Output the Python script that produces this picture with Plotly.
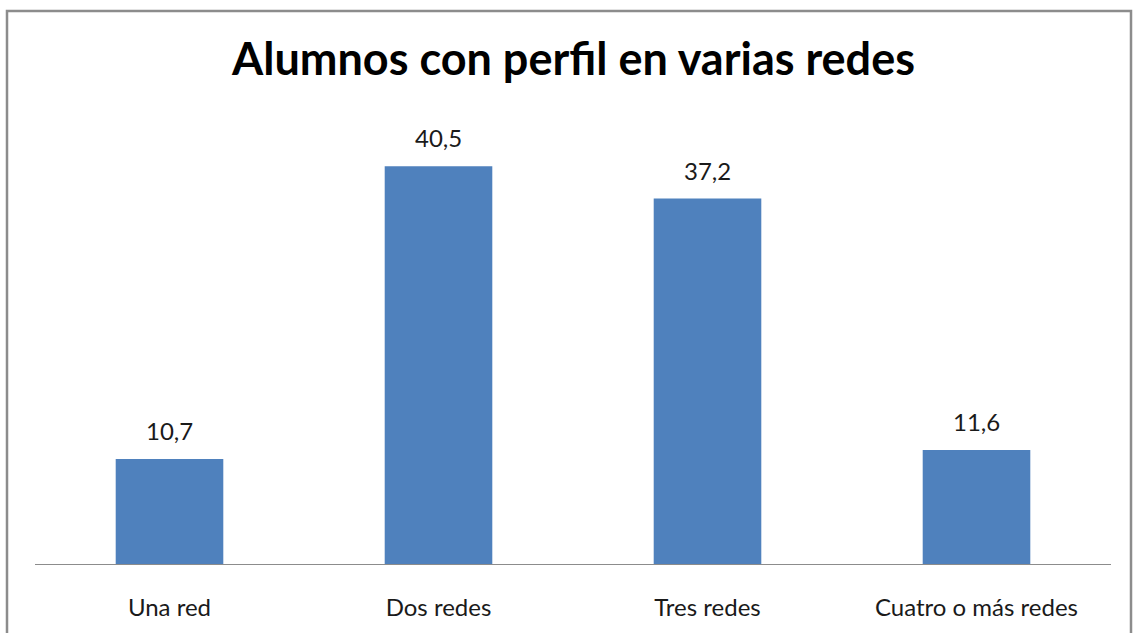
import plotly.graph_objects as go

categories = ["Una red", "Dos redes", "Tres redes", "Cuatro o más redes"]
values = [10.7, 40.5, 37.2, 11.6]
title_text = "Alumnos con perfil en varias redes"

W, H = 1133, 633
L, R, T, B = 35, 22, 122, 61
pw, ph = W - L - R, H - T - B

fig = go.Figure()
fig.add_trace(go.Bar(x=categories, y=values, marker=dict(color="#4F81BD", line=dict(width=0)),
                     hoverinfo="x+y"))

for c, v in zip(categories, values):
    fig.add_annotation(x=c, y=v, text=f"{v:.1f}".replace(".", ","), showarrow=False,
                       yanchor="bottom", yshift=12, font=dict(size=24, color="#1a1a1a"))

def px_x(p):
    return (p - L) / pw
def px_y(p):
    return 1 - (p - T) / ph

fig.add_shape(type="rect", xref="paper", yref="paper",
              x0=px_x(7), x1=px_x(1131), y0=px_y(660), y1=px_y(9),
              line=dict(color="#8c8c8c", width=2.5), fillcolor="rgba(0,0,0,0)", layer="below")

fig.update_layout(
    width=W, height=H,
    margin=dict(l=L, r=R, t=T, b=B),
    paper_bgcolor="white", plot_bgcolor="white",
    bargap=0.6,
    showlegend=False,
    font=dict(family="Lato, Open Sans, sans-serif", color="#1a1a1a"),
    title=dict(text=f"<b>{title_text}</b>", x=px_x(573.5), xanchor="center", xref="paper",
               y=1 - 59 / H, yanchor="middle", font=dict(size=45, color="black")),
    xaxis=dict(showline=True, linecolor="#8c8c8c", linewidth=1, showgrid=False,
               ticks="", tickfont=dict(size=24, color="#1a1a1a"), ticklabelstandoff=22),
    yaxis=dict(range=[0, 45], visible=False, showgrid=False, zeroline=False),
)

fig.write_html("out.html", config={"displayModeBar": False},
               post_script="document.body.style.margin='0px';document.body.style.overflow='hidden';")
